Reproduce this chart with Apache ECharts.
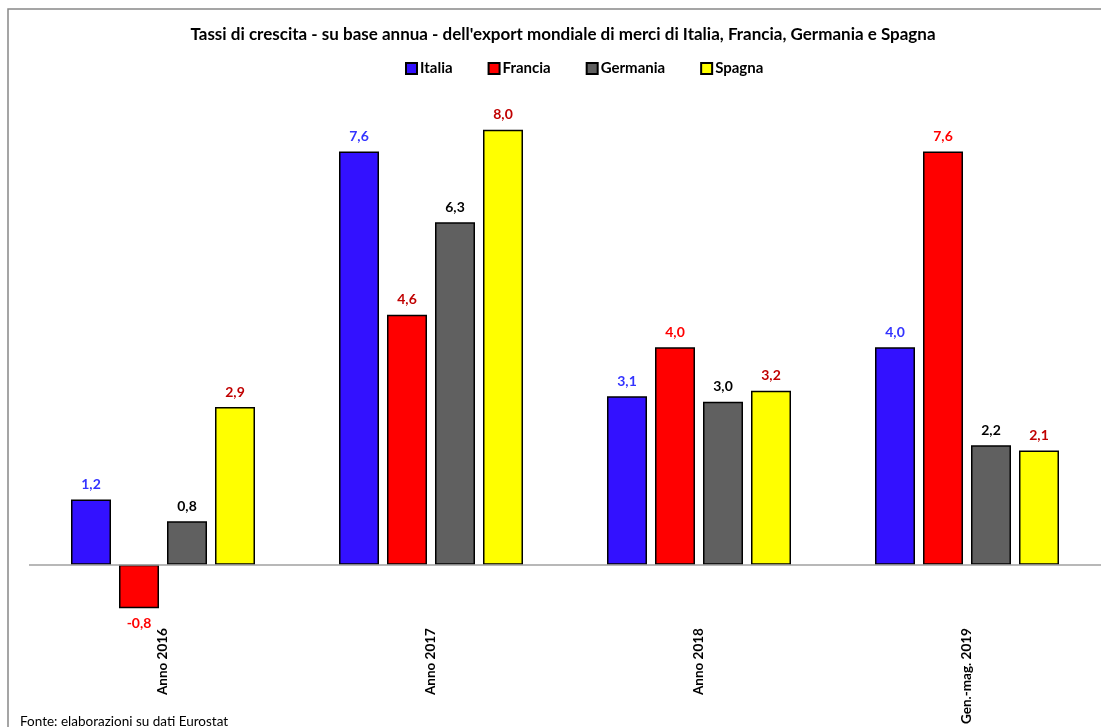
<!DOCTYPE html>
<html>
<head>
<meta charset="utf-8">
<script src="https://cdn.jsdelivr.net/npm/echarts@6/dist/echarts.min.js"></script>
<style>
  html, body { margin: 0; padding: 0; background: #fff; }
  #chart { width: 1101px; height: 727px; }
</style>
</head>
<body>
<div id="chart"></div>
<script>
// Categories (periods) and yearly growth rates of world goods exports, %
const categories = ['Anno 2016', 'Anno 2017', 'Anno 2018', 'Gen.-mag. 2019'];
const italia   = [1.2, 7.6, 3.1, 4.0];
const francia  = [-0.8, 4.6, 4.0, 7.6];
const germania = [0.8, 6.3, 3.0, 2.2];
const spagna   = [2.9, 8.0, 3.2, 2.1];

const FONT = 'Lato, "Open Sans", sans-serif';

function fmt(v) {
  return v.toFixed(1).replace('.', ',');
}

function makeSeries(name, data, fill, labelColors) {
  return {
    name: name,
    type: 'bar',
    barWidth: 40,
    barGap: '20%',
    data: data.map((v, i) => ({
      value: v,
      label: { color: labelColors[i] }
    })),
    itemStyle: { color: fill, borderColor: '#000', borderWidth: 1.5 },
    label: {
      show: true,
      position: 'outside',
      distance: 8,
      fontFamily: FONT,
      fontWeight: 'bold',
      fontSize: 14,
      formatter: p => fmt(p.value)
    }
  };
}

const chart = echarts.init(document.getElementById('chart'));
const series = [
  makeSeries('Italia', italia, '#3311ff', ['#3333ff', '#3333ff', '#3333ff', '#3333ff']),
  makeSeries('Francia', francia, '#ff0000', ['#ff0000', '#c00000', '#ff0000', '#ff0000']),
  makeSeries('Germania', germania, '#606060', ['#000', '#000', '#000', '#000']),
  makeSeries('Spagna', spagna, '#ffff00', ['#c00000', '#c00000', '#c00000', '#c00000'])
];
// zero reference line
series[0].markLine = {
  silent: true,
  symbol: 'none',
  label: { show: false },
  lineStyle: { color: '#a0a0a0', width: 1.5, type: 'solid' },
  data: [{ yAxis: 0 }]
};

chart.setOption({
  animation: false,
  backgroundColor: '#fff',
  graphic: [
    {
      type: 'rect',
      shape: { x: 8, y: 9, width: 1200, height: 800 },
      style: { fill: 'none', stroke: '#888', lineWidth: 1.5 },
      z: -1
    },
    {
      type: 'text',
      left: 20,
      top: 715,
      style: {
        text: 'Fonte: elaborazioni su dati Eurostat',
        font: '13.5px ' + FONT,
        fill: '#000'
      }
    }
  ],
  title: {
    text: "Tassi di crescita - su base annua - dell'export mondiale di merci di Italia, Francia, Germania e Spagna",
    left: 558,
    textAlign: 'center',
    top: 21,
    textStyle: { fontFamily: FONT, fontWeight: 'bold', fontSize: 17, color: '#000' }
  },
  legend: {
    left: 400,
    top: 56,
    itemWidth: 11,
    itemHeight: 11,
    itemGap: 35,
    icon: 'rect',
    textStyle: { fontFamily: FONT, fontWeight: 'bold', fontSize: 15, color: '#000', padding: [0, 0, 0, -2] },
    data: ['Italia', 'Francia', 'Germania', 'Spagna']
  },
  grid: { left: 29, top: 75.5, width: 1076, height: 545 },
  xAxis: {
    type: 'category',
    data: categories,
    axisLine: { show: false },
    axisTick: { show: false },
    axisLabel: {
      rotate: 90,
      margin: 9,
      fontFamily: FONT,
      fontWeight: 'bold',
      fontSize: 13.5,
      color: '#000'
    }
  },
  yAxis: {
    type: 'value',
    min: -1,
    max: 9,
    interval: 1,
    show: false,
    splitLine: { show: false }
  },
  series: series
});
</script>
</body>
</html>
